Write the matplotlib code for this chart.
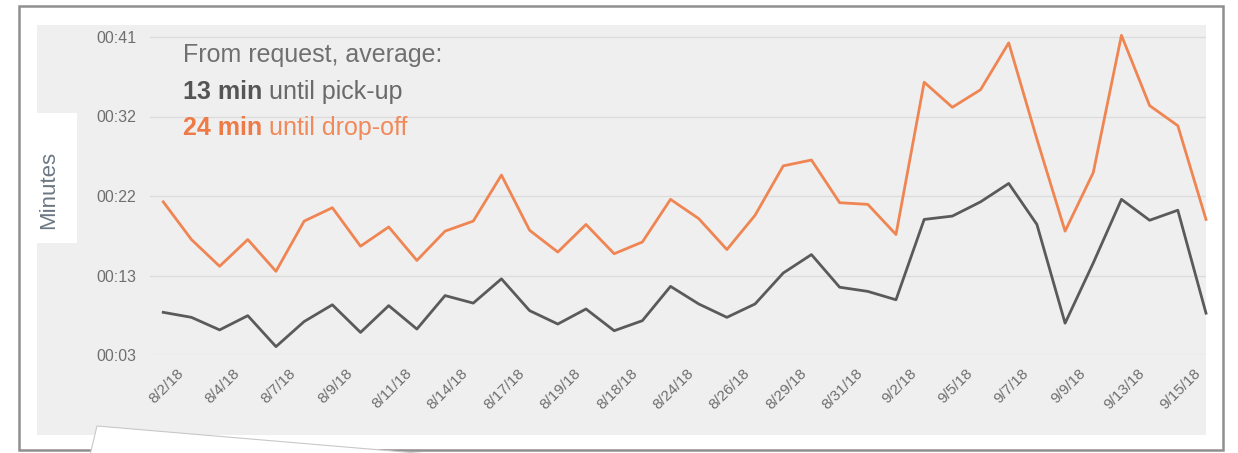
import matplotlib
matplotlib.use("Agg")
import matplotlib.pyplot as plt
from matplotlib.patches import Rectangle, Polygon
from matplotlib.transforms import ScaledTranslation

# --- DADOS ---
date_labels = ['8/2/18', '8/4/18', '8/7/18', '8/9/18', '8/11/18', '8/14/18', '8/17/18',
               '8/19/18', '8/18/18', '8/24/18', '8/26/18', '8/29/18', '8/31/18', '9/2/18',
               '9/5/18', '9/7/18', '9/9/18', '9/13/18', '9/15/18']

# minutes from request until pick-up (gray line)
pickup = [8.6, 8.0, 6.5, 8.2, 4.5, 7.5, 9.5, 6.2, 9.4, 6.6, 10.6, 9.7, 12.6,
          8.8, 7.2, 9.0, 6.4, 7.6, 11.7, 9.6, 8.0, 9.6, 13.3, 15.5,
          11.6, 11.1, 10.1, 19.7, 20.1, 21.8, 24.0, 19.1, 7.3, 14.5, 22.1, 19.6, 20.8, 8.5]

# minutes from request until drop-off (orange line)
dropoff = [21.8, 17.3, 14.1, 17.3, 13.5, 19.5, 21.1, 16.5, 18.8, 14.8, 18.3, 19.5, 25.0,
           18.4, 15.8, 19.1, 15.6, 17.0, 22.1, 19.8, 16.1, 20.2, 26.1, 26.8,
           21.7, 21.5, 17.9, 36.1, 33.1, 35.2, 40.8, 29.3, 18.3, 25.3, 41.7, 33.3, 30.9, 19.7]

y_ticks = [3.5, 13, 22.5, 32, 41.5]
y_tick_labels = ['00:03', '00:13', '00:22', '00:32', '00:41']

W, H = 1238, 453
GRAY = '#5a5a5a'
ORANGE = '#ef8552'

def fx(x):
    return x / W

def fy(y):
    return 1 - y / H

fig = plt.figure(figsize=(W / 100, H / 100), dpi=100)
fig.patch.set_facecolor('white')

# cartão + painel cinza
fig.patches.append(Rectangle((fx(19), fy(450)), fx(1223) - fx(19), fy(6) - fy(450),
                             transform=fig.transFigure, facecolor='white',
                             edgecolor='#8f8f8f', lw=1.8, zorder=0))
fig.patches.append(Rectangle((fx(37), fy(435)), fx(1206) - fx(37), fy(25) - fy(435),
                             transform=fig.transFigure, facecolor='#efefef',
                             edgecolor='none', zorder=0))
# folha branca decorativa em baixo
fig.patches.append(Polygon([(fx(97), fy(426)), (fx(440), fy(455)), (fx(90), fy(455))],
                           closed=True, transform=fig.transFigure, facecolor='white',
                           edgecolor='#c8c8c8', lw=0.8, zorder=1))
# caixa branca do rótulo "Minutes"
fig.patches.append(Rectangle((fx(37), fy(243)), fx(77) - fx(37), fy(113) - fy(243),
                             transform=fig.transFigure, facecolor='white',
                             edgecolor='none', zorder=1))
fig.text(fx(49), fy(190), 'Minutes', rotation=90, ha='center', va='center',
         fontsize=16, color='#6b7884', family='Liberation Sans')

ymin, ymax = 3.5, 42.2
px_per_min = 79.5 / 9.5
ax_h = (ymax - ymin) * px_per_min
ax = fig.add_axes([fx(150), fy(355), fx(1206) - fx(150), ax_h / H])
ax.set_zorder(5)
ax.set_facecolor('none')
ax.set_xlim(-0.47, 37.0)
ax.set_ylim(ymin, ymax)

x = list(range(len(pickup)))
for v in y_ticks:
    ax.axhline(v, color='#dcdcdc', lw=1.0, zorder=1)

ax.plot(x, dropoff, color=ORANGE, lw=2.0, clip_on=False, zorder=3)
ax.plot(x, pickup, color=GRAY, lw=2.0, clip_on=False, zorder=3)

ax.set_yticks(y_ticks)
ax.set_yticklabels(y_tick_labels, fontsize=11.5, color='#6f6f6f', family='Liberation Sans')
ax.set_xticks(x[::2])
ax.set_xticklabels(date_labels, rotation=45, ha='center', fontsize=11,
                   color='#6f6f6f', family='Liberation Sans')
ax.tick_params(axis='y', length=0, pad=10)
ax.tick_params(axis='x', length=0, pad=8)
shift = ScaledTranslation(3 / 100, 0, fig.dpi_scale_trans)
for lab in ax.get_xticklabels():
    lab.set_transform(lab.get_transform() + shift)
for s in ax.spines.values():
    s.set_visible(False)

# anotação
fig.text(fx(183), fy(55), 'From request, average:', ha='left', va='center',
         fontsize=18, color='#707070', family='Liberation Sans', zorder=6)
renderer = fig.canvas.get_renderer()
lines = [('13 min', ' until pick-up', '#555555', '#6a6a6a', 92),
         ('24 min', ' until drop-off', '#ee7a45', '#f08a5a', 128)]
for bold, rest, c1, c2, yy in lines:
    t = fig.text(fx(183), fy(yy), bold, ha='left', va='center', fontsize=18,
                 fontweight='bold', color=c1, family='Liberation Sans', zorder=6)
    bb = t.get_window_extent(renderer)
    fig.text(bb.x1 / W, fy(yy), rest, ha='left', va='center', fontsize=18,
             color=c2, family='Liberation Sans', zorder=6)

plt.savefig('out.png', dpi=100)
